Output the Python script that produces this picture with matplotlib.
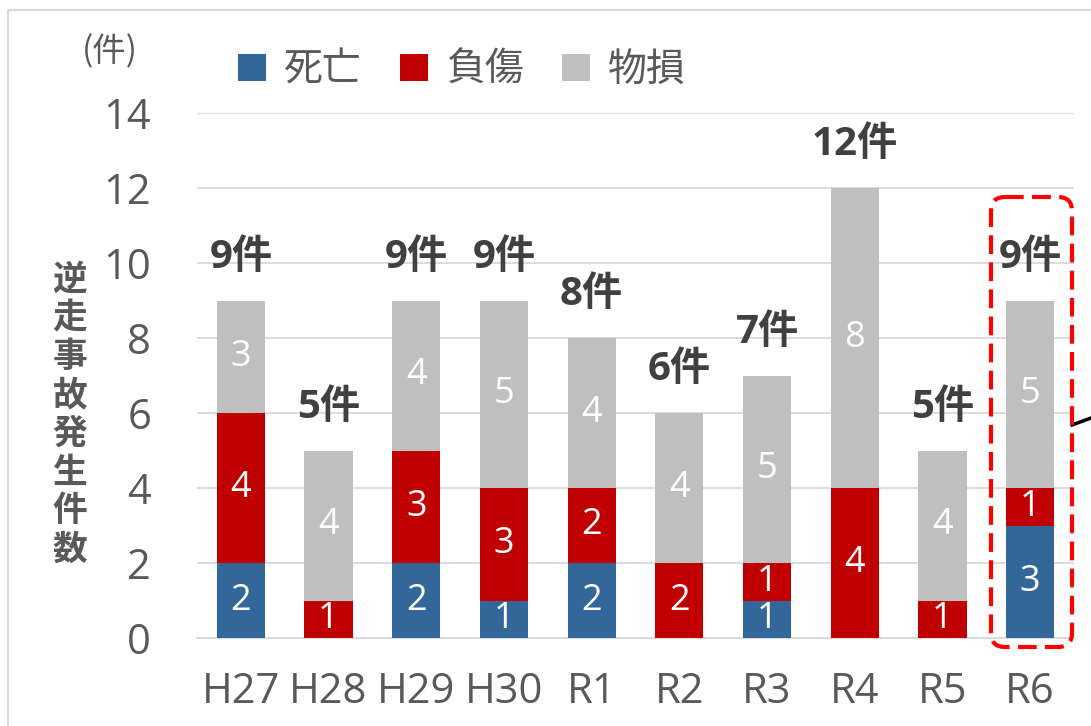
import matplotlib
matplotlib.use("Agg")
import matplotlib.pyplot as plt
from matplotlib.patches import FancyBboxPatch, Patch
from matplotlib.lines import Line2D
import numpy as np

LATIN = ['Open Sans', 'Noto Sans CJK JP', 'DejaVu Sans']
plt.rcParams['font.family'] = LATIN

categories = ["H27", "H28", "H29", "H30", "R1", "R2", "R3", "R4", "R5", "R6"]
deaths = [2, 0, 2, 1, 2, 0, 1, 0, 0, 3]
injuries = [4, 1, 3, 3, 2, 2, 1, 4, 1, 1]
damage = [3, 4, 4, 5, 4, 4, 5, 8, 4, 5]
series_names = ["死亡", "負傷", "物損"]
colors = ["#336699", "#C00000", "#BFBFBF"]
yticks = [0, 2, 4, 6, 8, 10, 12, 14]

W, H = 1091, 726
fig = plt.figure(figsize=(W / 100, H / 100), dpi=100)
ax = fig.add_axes([197 / W, 1 - 638 / H, (1074 - 197) / W, (638 - 113) / H])

x = np.arange(len(categories))
width = 0.55
series = [deaths, injuries, damage]
bottom = np.zeros(len(categories))
for vals, col in zip(series, colors):
    vals = np.array(vals, dtype=float)
    ax.bar(x, vals, width, bottom=bottom, color=col, zorder=3)
    for xi, v, b in zip(x, vals, bottom):
        if v > 0:
            ax.text(xi, b + v / 2, f"{int(v)}", ha="center", va="center",
                    color="white", fontsize=26, zorder=4)
    bottom = bottom + vals

totals = bottom
for xi, t in zip(x, totals):
    ax.annotate(f"{int(t)}件", (xi, t), xytext=(0, 31), textcoords="offset points",
                ha="center", va="center", fontsize=29, fontweight="bold",
                color="#404040", zorder=5)

ax.set_xlim(-0.5, len(categories) - 0.5)
ax.set_ylim(0, 14)
ax.set_yticks(yticks)
ax.set_xticks(x)
ax.set_xticklabels(categories)
ax.tick_params(axis="y", length=0, pad=33, labelsize=30, labelcolor="#595959")
ax.tick_params(axis="x", length=0, pad=24, labelsize=30, labelcolor="#595959")
ax.grid(axis="y", color="#D9D9D9", linewidth=1.3, zorder=0)
for s in ax.spines.values():
    s.set_visible(False)
ax.spines["bottom"].set_visible(True)
ax.spines["bottom"].set_color("#D9D9D9")
ax.spines["bottom"].set_linewidth(1.3)

# overlay in pixel coordinates for decorations
ov = fig.add_axes([0, 0, 1, 1], zorder=10)
ov.set_xlim(0, W)
ov.set_ylim(H, 0)
ov.axis("off")
ov.patch.set_alpha(0)

# figure border
ov.add_line(Line2D([8, 8, W], [H, 10, 10], color="#D9D9D9", linewidth=1.5))

# y label (vertical)
ov.text(70, 414, "\n".join("逆走事故発生件数"), ha="center", va="center",
        fontsize=25, fontweight="bold", color="#595959", linespacing=1.13,
        family=['Noto Sans CJK JP'])
ov.text(110, 52, "(件)", ha="center", va="center", fontsize=24, color="#595959",
        family=['Noto Sans CJK JP'])

# legend
handles = [Patch(facecolor=c, edgecolor="none") for c in colors]
leg = fig.legend(handles, series_names, loc="center left",
                 bbox_to_anchor=(203 / W, 1 - 70 / H), ncol=3, frameon=False,
                 prop={'family': ['Noto Sans CJK JP'], 'size': 28},
                 handlelength=0.72, handleheight=0.72,
                 handletextpad=0.45, columnspacing=1.0, labelcolor="#595959")

# red dashed highlight box around R6
box = FancyBboxPatch((991, 197), 81, 450, boxstyle="round,pad=0,rounding_size=14",
                     fill=False, edgecolor="#FF0000", linewidth=3,
                     linestyle=(0, (4.5, 2)), zorder=11)
ov.add_patch(box)
ov.add_line(Line2D([1072, 1091], [425, 418], color="black", linewidth=2.5))

fig.savefig("out.png", dpi=100)
